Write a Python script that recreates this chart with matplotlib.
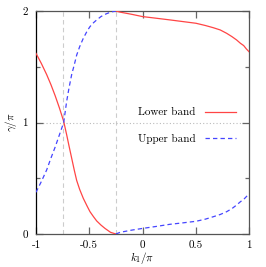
import numpy as np
import matplotlib
matplotlib.use("Agg")
import matplotlib.pyplot as plt

plt.rcParams['font.family'] = ['cmr10', 'DejaVu Serif']
plt.rcParams['mathtext.fontset'] = 'cm'
plt.rcParams['axes.unicode_minus'] = False

# ===== data (k1/pi, gamma/pi) =====
lower_k_a = [-1.0, -0.95, -0.90, -0.86, -0.82, -0.78, -0.74, -0.712, -0.69, -0.665, -0.64,
             -0.618, -0.59, -0.556, -0.52, -0.493, -0.46, -0.43, -0.39, -0.352, -0.30, -0.25]
lower_g_a = [1.62, 1.53, 1.43, 1.34, 1.24, 1.13, 1.01, 0.89, 0.79, 0.68, 0.57,
             0.48, 0.40, 0.32, 0.25, 0.20, 0.155, 0.117, 0.08, 0.05, 0.015, 0.0]
lower_k_b = [-0.25, -0.211, -0.1, 0.0, 0.13, 0.258, 0.38, 0.502, 0.59, 0.665, 0.73, 0.79,
             0.84, 0.884, 0.92, 0.95, 0.975, 1.0]
lower_g_b = [2.0, 1.99, 1.97, 1.95, 1.935, 1.92, 1.905, 1.89, 1.87, 1.85, 1.83, 1.80,
             1.77, 1.74, 1.71, 1.69, 1.66, 1.635]

upper_k_a = [-1.0, -0.95, -0.90, -0.86, -0.82, -0.78, -0.74, -0.712, -0.69, -0.665, -0.64,
             -0.618, -0.59, -0.556, -0.52, -0.493, -0.46, -0.43, -0.39, -0.352, -0.30, -0.25]
upper_g_a = [0.374, 0.47, 0.574, 0.68, 0.78, 0.89, 1.0, 1.19, 1.31, 1.43, 1.52,
             1.605, 1.68, 1.755, 1.82, 1.86, 1.895, 1.92, 1.95, 1.97, 1.99, 2.0]
upper_k_b = [-0.25, -0.211, -0.1, 0.0, 0.13, 0.258, 0.38, 0.502, 0.59, 0.665, 0.73, 0.79,
             0.84, 0.884, 0.92, 0.95, 0.975, 1.0]
upper_g_b = [0.0, 0.015, 0.035, 0.05, 0.068, 0.087, 0.10, 0.114, 0.133, 0.155, 0.175, 0.20,
             0.228, 0.26, 0.29, 0.31, 0.335, 0.36]

vlines_k = [-0.75, -0.25]

red = '#ff4545'
blue = '#4545ff'

fig = plt.figure(figsize=(2.66, 2.67), dpi=100)
ax = fig.add_axes([36/266, 33/267, 213/266, 223/267])

for xv in vlines_k:
    ax.axvline(xv, color='#cccccc', lw=0.8, ls=(0, (4, 3)), zorder=1)
ax.axhline(1.0, color='#bbbbbb', lw=0.8, ls=(0, (1, 2)), zorder=1)

ax.plot(lower_k_a, lower_g_a, color=red, lw=0.9, zorder=3, label='Lower band')
ax.plot(lower_k_b, lower_g_b, color=red, lw=0.9, zorder=3)
ax.plot(upper_k_a, upper_g_a, color=blue, lw=0.9, ls=(0, (3.5, 2.5)), zorder=3, label='Upper band')
ax.plot(upper_k_b, upper_g_b, color=blue, lw=0.9, ls=(0, (3.5, 2.5)), zorder=3)

ax.set_xlim(-1, 1)
ax.set_ylim(0, 2)
ax.set_xticks([-1, -0.5, 0, 0.5, 1])
ax.set_xticklabels(['-1', '-0.5', '0', '0.5', '1'])
ax.set_yticks([0, 1, 2])
ax.set_yticklabels(['0', '1', '2'])
ax.set_yticks([0.5, 1.5], minor=True)
ax.tick_params(which='both', direction='in', top=True, right=True,
               color='#666666', labelsize=8)
ax.tick_params(axis='x', pad=5)
ax.tick_params(axis='y', pad=6)
ax.tick_params(which='major', length=5, width=0.9)
ax.tick_params(which='minor', length=3, width=0.9)

for s in ax.spines.values():
    s.set_color('#555555')
    s.set_linewidth(0.9)
ax.spines['left'].set_color('black')

ax.set_xlabel(r'$k_1/\pi$', fontsize=8, labelpad=0)
ax.set_ylabel(r'$\gamma/\pi$', fontsize=8, labelpad=2)

ax.legend(loc='center right', bbox_to_anchor=(0.99, 0.486), frameon=False,
          fontsize=8, markerfirst=False, handlelength=2.8, labelspacing=1.45,
          borderaxespad=0.6)

fig.savefig('out.png', dpi=100)
